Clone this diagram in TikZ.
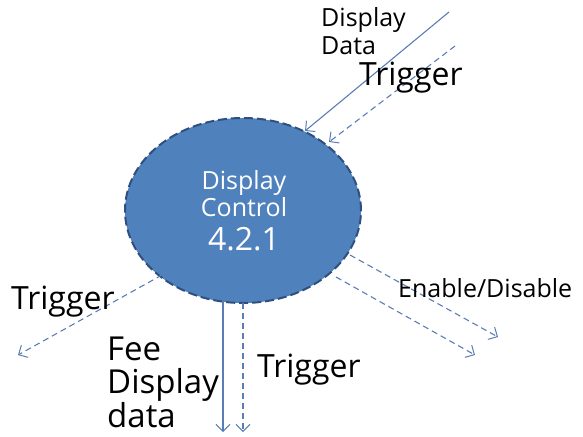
\documentclass[tikz,border=0pt]{standalone}
\usepackage{fontspec}
\setmainfont{Open Sans}
\usetikzlibrary{arrows.meta,shapes.geometric}
\definecolor{ellfill}{HTML}{4F81BD}
\definecolor{ellline}{HTML}{2F4F7F}
\definecolor{arr}{HTML}{5B7DB4}
\begin{document}
\begin{tikzpicture}[x=1pt,y=-1pt,
  flow/.style={draw=arr,line width=1.1pt,-{Straight Barb[length=7pt,width=14pt,line width=1pt]}},
  dflow/.style={flow,dash pattern=on 6pt off 4pt},
  big/.style={font=\fontsize{32}{36}\selectfont,text=black,inner sep=0pt,align=left},
  small/.style={font=\fontsize{25}{28}\selectfont,text=black,inner sep=0pt,align=left}]
\useasboundingbox (0,0) rectangle (583,436);
\node[ellipse,minimum width=236pt,minimum height=185pt,fill=ellfill,draw=ellline,line width=2pt,dash pattern=on 9pt off 4pt] (dc) at (243,210.5) {};
\node[text=white,font=\fontsize{25}{27}\selectfont,align=center,inner sep=0pt] (t1) at (244,194) {Display\\Control};
\node[text=white,font=\fontsize{32}{34}\selectfont,inner sep=0pt] (t2) at (244,239) {4.2.1};
% endpoints
\coordinate (a1s) at (449,12);
\coordinate (a1e) at (305,131);
\coordinate (a2s) at (455,46);
\coordinate (a2e) at (329,142);
\coordinate (a3s) at (162,275);
\coordinate (a3e) at (18,355);
\coordinate (a4s) at (223,301);
\coordinate (a4e) at (223,432);
\coordinate (a5s) at (243,303);
\coordinate (a5e) at (243,432);
\coordinate (a6s) at (350,255);
\coordinate (a6e) at (498,337);
\coordinate (a7s) at (336,277);
\coordinate (a7e) at (475,355);
\draw[flow] (a1s) -- (a1e);
\draw[dflow] (a2s) -- (a2e);
\draw[dflow] (a3s) -- (a3e);
\draw[flow] (a4s) -- (a4e);
\draw[dflow] (a5s) -- (a5e);
\draw[dflow] (a6s) -- (a6e);
\draw[dflow] (a7s) -- (a7e);
% labels
\node[small,anchor=west] (l1) at (321,31) {Display\\Data};
\node[big,anchor=west] (l2) at (359,78) {Trigger};
\node[small,anchor=west] (l3) at (398,288) {Enable/Disable};
\node[big,anchor=west] (l4) at (11,302) {Trigger};
\node[big,anchor=west,font=\fontsize{33}{33.5}\selectfont] (l5) at (107,382) {Fee\\Display\\data};
\node[big,anchor=west] (l6) at (257,370) {Trigger};
\end{tikzpicture}
\end{document}
